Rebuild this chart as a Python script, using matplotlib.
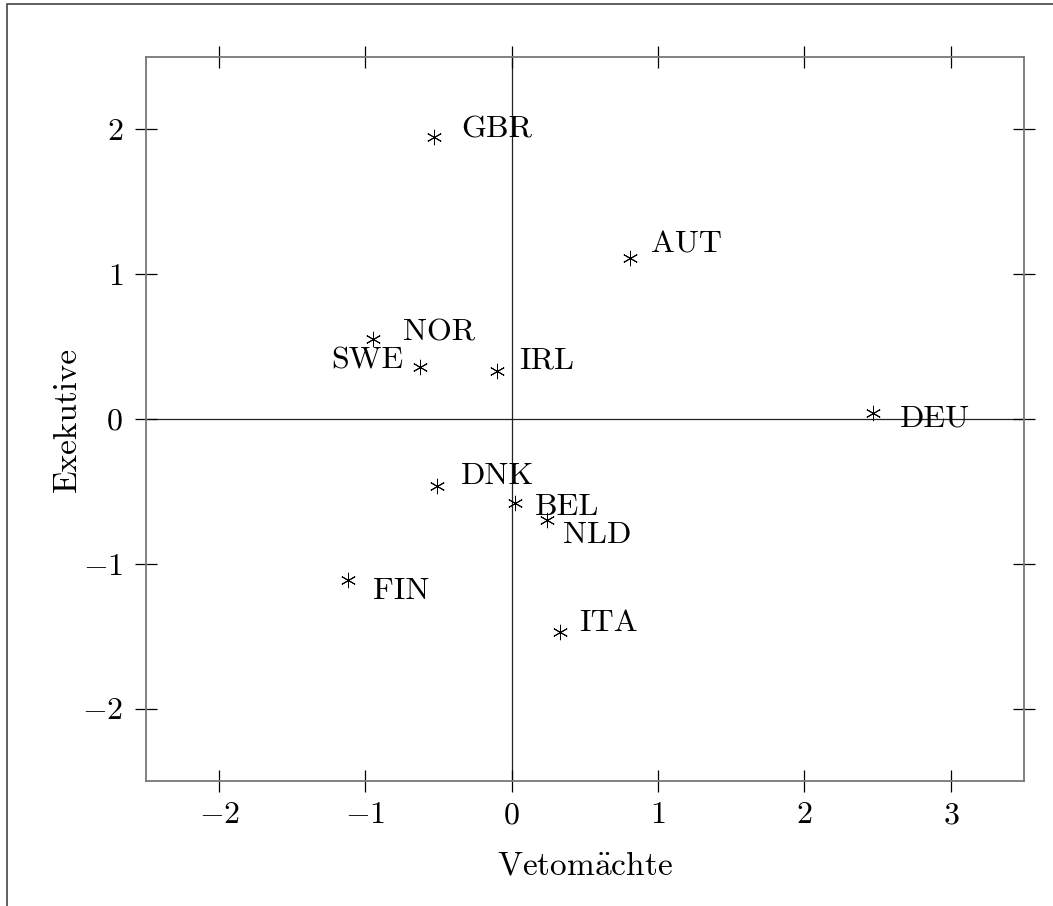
import matplotlib
matplotlib.use("Agg")
import matplotlib.pyplot as plt
from matplotlib.patches import Rectangle

plt.rcParams['font.family'] = ['cmr10', 'DejaVu Serif']
plt.rcParams['mathtext.fontset'] = 'cm'
plt.rcParams['axes.formatter.use_mathtext'] = True

countries = ["GBR", "AUT", "NOR", "SWE", "IRL", "DEU", "DNK", "BEL", "NLD", "FIN", "ITA"]
vetomaechte = [-0.53, 0.81, -0.95, -0.63, -0.10, 2.47, -0.51, 0.02, 0.24, -1.12, 0.33]
exekutive = [1.95, 1.11, 0.55, 0.36, 0.33, 0.04, -0.46, -0.58, -0.70, -1.11, -1.47]
xticks = [-2, -1, 0, 1, 2, 3]
yticks = [-2, -1, 0, 1, 2]
xlabel = r"Vetom$\ddot{\mathrm{a}}$chte"
ylabel = "Exekutive"

# label offsets in pixels (dx, dy up), alignment
label_offsets = {
    "GBR": (27, 7, 'left'), "AUT": (21, 13, 'left'), "NOR": (30, 7, 'left'),
    "SWE": (-16, 6, 'right'), "IRL": (22, 10, 'left'), "DEU": (27, -6, 'left'),
    "DNK": (24, 9, 'left'), "BEL": (20, -4, 'left'), "NLD": (16, -15, 'left'),
    "FIN": (25, -12, 'left'), "ITA": (19, 9, 'left'),
}

fig = plt.figure(figsize=(10.53, 9.06), dpi=100)
fig.patch.set_facecolor('white')
# outer border
fig.add_artist(Rectangle((7/1053, -0.1), 1.2, (906-4)/906 + 0.1, transform=fig.transFigure,
                         fill=False, edgecolor='#444444', linewidth=1.2))

ax = fig.add_axes([146/1053, (906-781)/906, (1024-146)/1053, (781-57)/906])
ax.set_xlim(-2.5, 3.5)
ax.set_ylim(-2.5, 2.5)

ax.axhline(0, color='#222222', linewidth=0.9, zorder=1)
ax.axvline(0, color='#222222', linewidth=0.9, zorder=1)

ax.plot(vetomaechte, exekutive, linestyle='none', marker=(6, 2, 0), markersize=11,
        markeredgewidth=0.7, color='black', zorder=3)

for c, x, y in zip(countries, vetomaechte, exekutive):
    dx, dy, ha = label_offsets[c]
    ax.annotate(c, (x, y), xytext=(dx, dy), textcoords='offset pixels',
                ha=ha, va='center', fontsize=23, color='black', zorder=4)

for s in ax.spines.values():
    s.set_color('#777777')
    s.set_linewidth(1.3)

ax.set_xticks(xticks)
ax.set_yticks(yticks)
ax.set_xticklabels([f"${v}$" if v >= 0 else f"$-{abs(v)}$" for v in xticks])
ax.set_yticklabels([f"${v}$" if v >= 0 else f"$-{abs(v)}$" for v in yticks])
ax.tick_params(direction='inout', length=16, width=0.9, color='black', labelsize=23,
               top=True, right=True, labeltop=False, labelright=False)
ax.tick_params(axis='y', pad=8.5)
ax.tick_params(axis='x', pad=7)

ax.set_xlabel(xlabel, fontsize=24, labelpad=16)
ax.set_ylabel(ylabel, fontsize=24, labelpad=0)

fig.savefig("out.png", dpi=100)
